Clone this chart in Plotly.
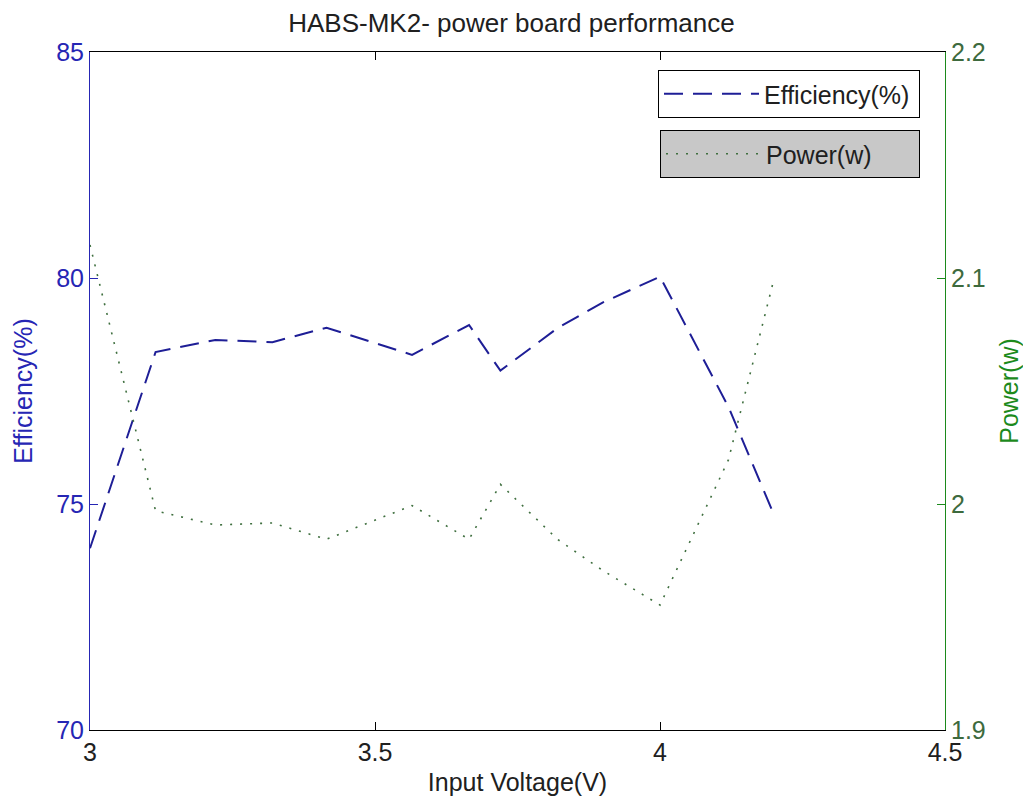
import plotly.graph_objects as go

# Data
voltage = [3.0, 3.115, 3.22, 3.32, 3.415, 3.565, 3.665, 3.72, 3.82, 3.9, 4.0, 4.12, 4.2]
efficiency = [74.02, 78.36, 78.63, 78.58, 78.90, 78.30, 78.96, 77.95, 78.89, 79.46, 80.03, 77.15, 74.76]
power = [2.1146, 1.997, 1.9907, 1.9916, 1.9844, 1.9993, 1.9844, 2.0087, 1.9844, 1.9705, 1.9553, 2.0195, 2.0996]

x_ticks = [3, 3.5, 4, 4.5]
x_ticklabels = ["3", "3.5", "4", "4.5"]
eff_ticks = [70, 75, 80, 85]
eff_ticklabels = ["70", "75", "80", "85"]
pow_ticks = [1.9, 2.0, 2.1, 2.2]
pow_ticklabels = ["1.9", "2", "2.1", "2.2"]

FONT = "Liberation Sans, Arial, sans-serif"
BLUE_AX = "#2626b4"
BLUE_LINE = "#1e1e96"
GREEN_AX = "#1c8a1c"
GREEN_LINE = "#3f6f3f"

fig = go.Figure()
fig.add_trace(go.Scatter(
    x=voltage, y=efficiency, name="Efficiency(%)", mode="lines",
    line=dict(color=BLUE_LINE, width=2, dash="19px,10px"),
    yaxis="y", legend="legend",
))
fig.add_trace(go.Scatter(
    x=voltage, y=power, name="Power(w)", mode="lines",
    line=dict(color=GREEN_LINE, width=1.6, dash="2px,8px"),
    yaxis="y2", legend="legend2",
))

fig.update_layout(
    width=1023, height=801,
    margin=dict(l=90, r=78, t=52, b=71, autoexpand=False),
    paper_bgcolor="white", plot_bgcolor="white",
    font=dict(family=FONT, size=25, color="#202020"),
    title=dict(text="HABS-MK2- power board performance", x=0.5, xanchor="center",
               y=1 - 23 / 801, yanchor="middle", font=dict(size=26, color="#202020")),
    xaxis=dict(
        range=[3, 4.5], tickvals=x_ticks, ticktext=x_ticklabels,
        showline=True, linecolor="black", linewidth=1, mirror="ticks",
        ticks="inside", ticklen=8, tickcolor="black",
        showgrid=False, zeroline=False, automargin=False,
        title=dict(text="Input Voltage(V)", standoff=8, font=dict(size=25)),
        tickfont=dict(color="#202020"),
    ),
    yaxis=dict(
        range=[70, 85], tickvals=eff_ticks, ticktext=eff_ticklabels,
        showline=True, linecolor=BLUE_AX, linewidth=1,
        ticks="inside", ticklen=8, tickcolor=BLUE_AX,
        showgrid=False, zeroline=False, automargin=False,
        tickfont=dict(color=BLUE_AX),
        title=dict(text="Efficiency(%)", font=dict(color=BLUE_AX, size=25), standoff=16),
    ),
    yaxis2=dict(
        range=[1.9, 2.2], tickvals=pow_ticks, ticktext=pow_ticklabels,
        overlaying="y", side="right",
        showline=True, linecolor=GREEN_AX, linewidth=1,
        ticks="inside", ticklen=8, tickcolor=GREEN_AX,
        showgrid=False, zeroline=False, automargin=False,
        tickfont=dict(color="#3d6a3d"),
        title=dict(text="Power(w)", font=dict(color=GREEN_AX, size=25), standoff=16),
    ),
    legend=dict(
        x=(658 - 90) / 855, y=(730 - 70) / 678, xanchor="left", yanchor="top",
        orientation="h", entrywidth=150, entrywidthmode="pixels", itemwidth=95,
        bgcolor="white", bordercolor="black", borderwidth=1,
        font=dict(size=25, color="#202020"),
    ),
    legend2=dict(
        x=(660 - 90) / 855, y=(730 - 130) / 678, xanchor="left", yanchor="top",
        orientation="h", entrywidth=148, entrywidthmode="pixels", itemwidth=95,
        bgcolor="#c8c8c8", bordercolor="black", borderwidth=1,
        font=dict(size=25, color="#202020"),
    ),
    showlegend=True,
)

fig.write_html("out.html")
